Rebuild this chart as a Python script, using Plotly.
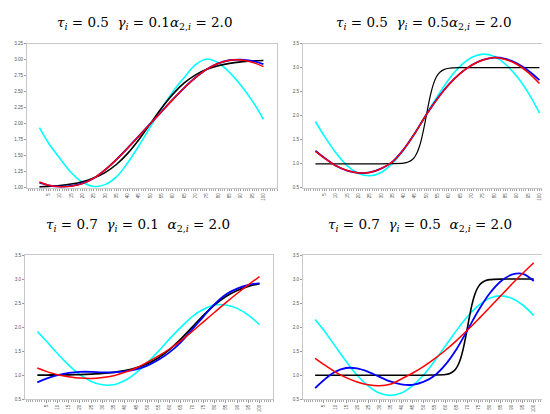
import plotly.graph_objects as go

# ---------------- data ----------------
x5 = [1, 5, 10, 15, 20, 25, 30, 35, 40, 45, 50, 55, 60, 65, 70, 75, 80, 85, 90, 95, 100]

# Panel 1: tau=0.5, gamma=0.1
p1_black = [1.015, 1.022, 1.036, 1.059, 1.095, 1.152, 1.238, 1.364, 1.538, 1.755, 2.0,
            2.245, 2.462, 2.636, 2.762, 2.848, 2.905, 2.941, 2.964, 2.978, 2.987]
p1_blue = [1.08, 1.04, 1.02, 1.03, 1.07, 1.15, 1.28, 1.44, 1.62, 1.81, 2.0,
           2.19, 2.38, 2.56, 2.72, 2.85, 2.94, 2.99, 3.00, 2.98, 2.93]
p1_red = [1.09, 1.04, 1.015, 1.025, 1.065, 1.15, 1.28, 1.44, 1.62, 1.81, 2.0,
          2.19, 2.38, 2.56, 2.72, 2.85, 2.94, 2.99, 2.995, 2.96, 2.89]
p1_cyan = [1.94, 1.70, 1.46, 1.24, 1.09, 1.02, 1.05, 1.17, 1.39, 1.66, 1.95,
           2.24, 2.50, 2.72, 2.92, 3.01, 2.95, 2.80, 2.60, 2.36, 2.07]

# Panel 2: tau=0.5, gamma=0.5
x_p2_black = [1, 5, 10, 15, 20, 25, 30, 35, 40, 42, 44, 45, 46, 47, 48, 49, 50,
              51, 52, 53, 54, 55, 56, 58, 60, 65, 70, 75, 80, 85, 90, 95, 100]
p2_black = [1.0, 1.0, 1.0, 1.0, 1.0, 1.0, 1.0, 1.003, 1.013, 1.036, 1.095, 1.152, 1.238,
            1.364, 1.538, 1.755, 2.0, 2.245, 2.462, 2.636, 2.762, 2.848, 2.905, 2.964,
            2.987, 2.999, 3.0, 3.0, 3.0, 3.0, 3.0, 3.0, 3.0]
p2_blue = [1.27, 1.12, 0.96, 0.86, 0.81, 0.82, 0.90, 1.04, 1.30, 1.64, 2.02,
           2.36, 2.65, 2.88, 3.05, 3.16, 3.21, 3.18, 3.09, 2.94, 2.74]
p2_red = [1.26, 1.12, 0.96, 0.86, 0.81, 0.82, 0.90, 1.04, 1.30, 1.64, 2.02,
          2.36, 2.65, 2.88, 3.05, 3.16, 3.21, 3.17, 3.07, 2.90, 2.67]
p2_cyan = [1.88, 1.57, 1.23, 0.96, 0.80, 0.75, 0.82, 1.01, 1.29, 1.64, 2.03,
           2.41, 2.76, 3.03, 3.21, 3.28, 3.23, 3.07, 2.82, 2.48, 2.06]

# Panel 3: tau=0.7, gamma=0.1
p3_black = [1.002, 1.003, 1.005, 1.008, 1.013, 1.022, 1.036, 1.059, 1.095, 1.152, 1.238,
            1.364, 1.538, 1.755, 2.0, 2.245, 2.462, 2.636, 2.762, 2.848, 2.905]
p3_blue = [0.85, 0.93, 1.00, 1.05, 1.07, 1.07, 1.06, 1.06, 1.08, 1.12, 1.20,
           1.32, 1.48, 1.69, 1.95, 2.22, 2.48, 2.68, 2.80, 2.88, 2.91]
p3_red = [1.15, 1.08, 1.01, 0.97, 0.94, 0.93, 0.95, 0.99, 1.06, 1.15, 1.27,
          1.40, 1.55, 1.72, 1.91, 2.11, 2.31, 2.51, 2.70, 2.88, 3.05]
p3_cyan = [1.91, 1.71, 1.45, 1.21, 1.01, 0.87, 0.80, 0.80, 0.89, 1.05, 1.26,
           1.50, 1.76, 2.00, 2.22, 2.37, 2.46, 2.46, 2.39, 2.25, 2.05]

# Panel 4: tau=0.7, gamma=0.5
x_p4_black = [1, 5, 10, 15, 20, 25, 30, 35, 40, 45, 50, 55, 60, 62, 64, 65, 66, 67, 68, 69,
              70, 71, 72, 73, 74, 75, 76, 78, 80, 85, 90, 95, 100]
p4_black = [1.0, 1.0, 1.0, 1.0, 1.0, 1.0, 1.0, 1.0, 1.0, 1.0, 1.0, 1.003, 1.013, 1.036,
            1.095, 1.152, 1.238, 1.364, 1.538, 1.755, 2.0, 2.245, 2.462, 2.636, 2.762,
            2.848, 2.905, 2.964, 2.987, 2.999, 3.0, 3.0, 3.0]
p4_blue = [0.73, 0.90, 1.07, 1.15, 1.14, 1.07, 0.97, 0.87, 0.81, 0.80, 0.86,
           0.99, 1.22, 1.54, 1.94, 2.35, 2.70, 2.95, 3.09, 3.11, 2.96]
p4_red = [1.35, 1.22, 1.07, 0.95, 0.86, 0.80, 0.78, 0.81, 0.92, 1.04, 1.18,
          1.34, 1.52, 1.72, 1.94, 2.17, 2.41, 2.65, 2.89, 3.12, 3.34]
p4_cyan = [2.16, 1.93, 1.61, 1.29, 1.00, 0.78, 0.63, 0.58, 0.63, 0.78, 1.00,
           1.29, 1.61, 1.93, 2.22, 2.45, 2.60, 2.65, 2.60, 2.46, 2.24]

titles = [
    "<i>τ<sub>i</sub></i> = 0.5  <i>γ<sub>i</sub></i> = 0.1<i>α</i><sub>2,<i>i</i></sub> = 2.0",
    "<i>τ<sub>i</sub></i> = 0.5  <i>γ<sub>i</sub></i> = 0.5<i>α</i><sub>2,<i>i</i></sub> = 2.0",
    "<i>τ<sub>i</sub></i> = 0.7  <i>γ<sub>i</sub></i> = 0.1  <i>α</i><sub>2,<i>i</i></sub> = 2.0",
    "<i>τ<sub>i</sub></i> = 0.7  <i>γ<sub>i</sub></i> = 0.5  <i>α</i><sub>2,<i>i</i></sub> = 2.0",
]
x_ticks = list(range(5, 101, 5))

# ---------------- figure ----------------
W, H = 550, 414
# panel boxes in pixels: (left, right, top, bottom)
boxes = [(19, 269, 34, 180), (295, 545, 34, 180), (17, 265, 248, 394), (295, 539, 248, 394)]
title_pos = [(136, 13), (415, 13), (130, 218), (412, 218)]
y_ranges = [[1.0, 3.25], [0.5, 3.5], [0.5, 3.5], [0.5, 3.5]]
y_ticks_a = [1.0, 1.25, 1.5, 1.75, 2.0, 2.25, 2.5, 2.75, 3.0, 3.25]
y_ticks_b = [0.5, 1.0, 1.5, 2.0, 2.5, 3.0, 3.5]
y_tickvals = [y_ticks_a, y_ticks_b, y_ticks_b, y_ticks_b]
y_fmt = [".2f", ".1f", ".1f", ".1f"]
black_w = [1.6, 1.2, 1.8, 1.6]

panels = [
    (x5, p1_black, p1_blue, p1_red, p1_cyan),
    (x_p2_black, p2_black, p2_blue, p2_red, p2_cyan),
    (x5, p3_black, p3_blue, p3_red, p3_cyan),
    (x_p4_black, p4_black, p4_blue, p4_red, p4_cyan),
]

fig = go.Figure()
layout = dict(width=W, height=H, margin=dict(l=0, r=0, t=0, b=0),
              paper_bgcolor="white", plot_bgcolor="white", showlegend=False,
              annotations=[])

tick_font = dict(family="Liberation Sans, Arial, sans-serif", size=4.6, color="#555555")

for i, (xb, blk, blu, red, cya) in enumerate(panels):
    n = "" if i == 0 else str(i + 1)
    xa, ya = "x" + n, "y" + n
    l, r, t, b = boxes[i]
    common = dict(xaxis=xa, yaxis=ya, mode="lines", hoverinfo="skip")
    fig.add_trace(go.Scatter(x=x5, y=cya, line=dict(color="#00FFFF", width=1.6, shape="spline"), **common))
    fig.add_trace(go.Scatter(x=xb, y=blk, line=dict(color="#000000", width=black_w[i], shape="spline", smoothing=0.8), **common))
    fig.add_trace(go.Scatter(x=x5, y=blu, line=dict(color="#0000FF", width=1.8, shape="spline"), **common))
    fig.add_trace(go.Scatter(x=x5, y=red, line=dict(color="#FF0000", width=1.5, shape="spline"), **common))

    layout["xaxis" + n] = dict(
        domain=[l / W, r / W], anchor=ya, range=[-4.5, 106],
        tickmode="array", tickvals=x_ticks, ticktext=[str(v) for v in x_ticks],
        tickangle=-90, tickfont=tick_font, ticks="outside", ticklen=2.5, tickwidth=1,
        tickcolor="#999999", minor=dict(dtick=1, tick0=0, ticks="outside", ticklen=1.8, tickcolor="#aaaaaa"),
        showgrid=False, zeroline=False, showline=True, linecolor="#c8c8c8", linewidth=1, mirror=True,
        fixedrange=True)
    layout["yaxis" + n] = dict(
        domain=[1 - b / H, 1 - t / H], anchor=xa, range=y_ranges[i],
        tickmode="array", tickvals=y_tickvals[i], tickformat=y_fmt[i],
        tickfont=tick_font, ticks="outside", ticklen=2, tickcolor="#999999",
        showgrid=False, zeroline=False, showline=True, linecolor="#c8c8c8", linewidth=1, mirror=True,
        fixedrange=True)
    tx, ty = title_pos[i]
    layout["annotations"].append(dict(
        text=titles[i], x=tx / W, y=1 - ty / H, xref="paper", yref="paper",
        xanchor="center", yanchor="middle", showarrow=False,
        font=dict(family="DejaVu Serif, Liberation Serif, serif", size=13.5, color="black")))

fig.update_layout(**layout)
fig.write_html("out.html")
